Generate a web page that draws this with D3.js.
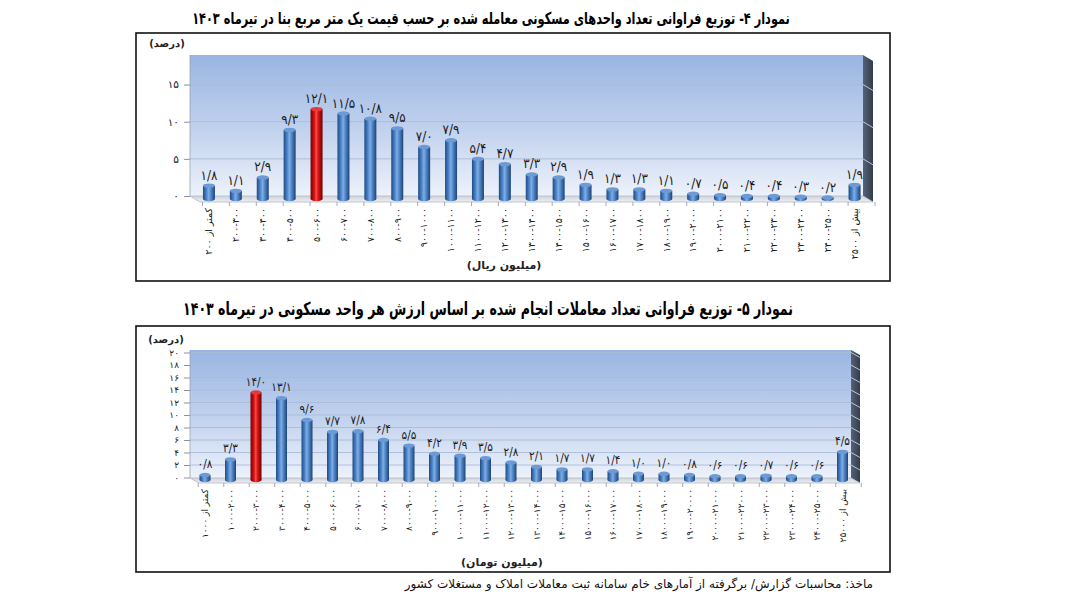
<!DOCTYPE html>
<html><head><meta charset="utf-8">
<script src="https://cdn.jsdelivr.net/npm/d3@7"></script>
<style>body{margin:0;background:#fff}svg{display:block}text{font-family:"DejaVu Sans",sans-serif}</style>
</head><body><svg id="c" width="1068" height="601"></svg>
<script>
// ---------------- DATA ----------------
const title1 = "نمودار ۴- توزیع فراوانی تعداد واحدهای مسکونی معامله شده بر حسب قیمت یک متر مربع بنا در تیرماه ۱۴۰۳";
const title2 = "نمودار ۵- توزیع فراوانی تعداد معاملات انجام شده بر اساس ارزش هر واحد مسکونی در تیرماه ۱۴۰۳";
const yUnit = "(درصد)";
const xUnit1 = "(میلیون ریال)";
const xUnit2 = "(میلیون تومان)";
const source = "ماخذ: محاسبات گزارش/ برگرفته از آمارهای خام سامانه ثبت معاملات املاک و مستغلات کشور";

const cats1 = ["کمتر از ۲۰۰","۲۰۰-۳۰۰","۳۰۰-۴۰۰","۴۰۰-۵۰۰","۵۰۰-۶۰۰","۶۰۰-۷۰۰","۷۰۰-۸۰۰","۸۰۰-۹۰۰","۹۰۰-۱۰۰۰","۱۰۰۰-۱۱۰۰","۱۱۰۰-۱۲۰۰","۱۲۰۰-۱۳۰۰","۱۳۰۰-۱۴۰۰","۱۴۰۰-۱۵۰۰","۱۵۰۰-۱۶۰۰","۱۶۰۰-۱۷۰۰","۱۷۰۰-۱۸۰۰","۱۸۰۰-۱۹۰۰","۱۹۰۰-۲۰۰۰","۲۰۰۰-۲۱۰۰","۲۱۰۰-۲۲۰۰","۲۲۰۰-۲۳۰۰","۲۳۰۰-۲۴۰۰","۲۴۰۰-۲۵۰۰","بیش از ۲۵۰۰"];
const vals1 = [1.8,1.1,2.9,9.3,12.1,11.5,10.8,9.5,7.0,7.9,5.4,4.7,3.3,2.9,1.9,1.3,1.3,1.1,0.7,0.5,0.4,0.4,0.3,0.2,1.9];
const highlight1 = 4;
const yTicks1 = [0,5,10,15];

const cats2 = ["کمتر از ۱۰۰۰","۱۰۰۰-۲۰۰۰","۲۰۰۰-۳۰۰۰","۳۰۰۰-۴۰۰۰","۴۰۰۰-۵۰۰۰","۵۰۰۰-۶۰۰۰","۶۰۰۰-۷۰۰۰","۷۰۰۰-۸۰۰۰","۸۰۰۰-۹۰۰۰","۹۰۰۰-۱۰۰۰۰","۱۰۰۰۰-۱۱۰۰۰","۱۱۰۰۰-۱۲۰۰۰","۱۲۰۰۰-۱۳۰۰۰","۱۳۰۰۰-۱۴۰۰۰","۱۴۰۰۰-۱۵۰۰۰","۱۵۰۰۰-۱۶۰۰۰","۱۶۰۰۰-۱۷۰۰۰","۱۷۰۰۰-۱۸۰۰۰","۱۸۰۰۰-۱۹۰۰۰","۱۹۰۰۰-۲۰۰۰۰","۲۰۰۰۰-۲۱۰۰۰","۲۱۰۰۰-۲۲۰۰۰","۲۲۰۰۰-۲۳۰۰۰","۲۳۰۰۰-۲۴۰۰۰","۲۴۰۰۰-۲۵۰۰۰","بیش از ۲۵۰۰۰"];
const vals2 = [0.8,3.3,14.0,13.1,9.6,7.7,7.8,6.4,5.5,4.2,3.9,3.5,2.8,2.1,1.7,1.7,1.4,1.0,1.0,0.8,0.6,0.6,0.7,0.6,0.6,4.5];
const highlight2 = 2;
const yTicks2 = [0,2,4,6,8,10,12,14,16,18,20];

// ---------------- HELPERS ----------------
const FA = "۰۱۲۳۴۵۶۷۸۹";
const fa = s => String(s).replace(/\d/g, d => FA[d]);
const faDec = v => fa(v.toFixed(1)).replace(".", "/");

const svg = d3.select("#c");
const defs = svg.append("defs");

function lin(id, x1,y1,x2,y2, stops){
  const g = defs.append("linearGradient").attr("id",id)
    .attr("x1",x1).attr("y1",y1).attr("x2",x2).attr("y2",y2);
  stops.forEach(s=>g.append("stop").attr("offset",s[0]).attr("stop-color",s[1]));
}
lin("wall","0","0","0","1",[["0%","#9ab5e2"],["55%","#c3d3ee"],["100%","#edf2fb"]]);
lin("blue","0","0","1","0",[["0%","#1e4a86"],["30%","#4f86c9"],["48%","#7eaee6"],["62%","#5a8fd0"],["100%","#1c4376"]]);
lin("red","0","0","1","0",[["0%","#7a0000"],["30%","#d01010"],["48%","#ff4a4a"],["62%","#dc1818"],["100%","#6e0000"]]);
lin("side","0","0","1","0",[["0%","#56627a"],["100%","#333c4b"]]);
lin("floor","0","0","0","1",[["0%","#cfd4dc"],["100%","#eceef2"]]);

// text stretched vertically, fitted to a target width
function stretchedText(g, str, cx, base, fs, targetW, sy, weight){
  const t = g.append("text").attr("x",0).attr("y",0).attr("text-anchor","middle")
    .attr("direction","rtl").attr("font-size",fs).attr("font-weight",weight).attr("fill","#000").text(str);
  const w = t.node().getComputedTextLength();
  t.attr("font-size", fs*targetW/w);
  t.attr("transform",`translate(${cx},${base}) scale(1,${sy})`);
  return t;
}

function drawPanel(o){
  const g = svg.append("g");
  g.append("rect").attr("x",o.frame[0]).attr("y",o.frame[1])
    .attr("width",o.frame[2]-o.frame[0]).attr("height",o.frame[3]-o.frame[1])
    .attr("fill","none").attr("stroke","#111").attr("stroke-width",1.6);

  const x = d3.scaleBand().domain(o.cats).range(o.xRange).padding(0);
  const yBar = d3.scaleLinear().domain([0,20]).range(o.yBarRange);
  const yWall = d3.scaleLinear().domain([0,20]).range([o.yBarRange[0]-o.wallShift, o.yBarRange[1]-o.wallShift]);

  const W = o.wall, dx = o.dx, dy = o.dy;
  g.append("rect").attr("x",W.x0).attr("y",W.top).attr("width",W.x1-W.x0).attr("height",W.floor-W.top)
    .attr("fill","url(#wall)");
  const grid = o.yTicks.filter(t=>t>0 && yWall(t)>W.top+1);
  g.selectAll(".gl").data(grid).join("line")
    .attr("x1",W.x0).attr("x2",W.x1).attr("y1",d=>yWall(d)).attr("y2",d=>yWall(d))
    .attr("stroke","#a9bbd8").attr("stroke-width",0.9);
  g.append("path").attr("d",`M${W.x1},${W.top}L${W.x1+dx},${W.top+dy}L${W.x1+dx},${W.floor+dy}L${W.x1},${W.floor}Z`)
    .attr("fill","url(#side)");
  g.selectAll(".sn").data(grid).join("line")
    .attr("x1",W.x1).attr("x2",W.x1+dx).attr("y1",d=>yWall(d)).attr("y2",d=>yWall(d)+dy)
    .attr("stroke","#c9d1de").attr("stroke-width",0.9);
  g.append("path").attr("d",`M${W.x0},${W.floor}L${W.x1},${W.floor}L${W.x1+dx},${W.floor+dy}L${W.x0+dx},${W.floor+dy}Z`)
    .attr("fill","url(#floor)").attr("stroke","#b4bac4").attr("stroke-width",0.8);
  g.append("line").attr("x1",W.x0).attr("x2",W.x0).attr("y1",W.top).attr("y2",W.floor)
    .attr("stroke","#9aa2ae").attr("stroke-width",0.8);

  const ya = d3.axisLeft(yWall).tickValues(o.yTicks).tickSize(6).tickPadding(5).tickFormat(d=>fa(d));
  const yg = g.append("g").attr("transform",`translate(${W.x0},0)`).call(ya);
  yg.select(".domain").remove();
  yg.selectAll("line").attr("stroke","#8c939e");
  yg.selectAll("text").attr("font-size",o.yFont).attr("fill","#222").style("font-family","DejaVu Sans");

  const bounds = d3.range(o.cats.length+1).map(i=>x.range()[0]+i*x.step()+o.tickOff);
  g.selectAll(".xt").data(bounds).join("line")
    .attr("x1",d=>d).attr("x2",d=>d).attr("y1",W.floor+dy).attr("y2",W.floor+dy+4)
    .attr("stroke","#9aa2ae").attr("stroke-width",0.9);

  const xa = d3.axisBottom(x).tickSize(0).tickPadding(0);
  const xg = g.append("g").attr("transform",`translate(0,${o.labelTop})`).call(xa);
  xg.select(".domain").remove();
  xg.selectAll("text")
    .attr("transform","rotate(-90)").attr("y",0).attr("x",0).attr("dy","0.35em")
    .attr("text-anchor","end").attr("font-size",o.xFont).attr("fill","#1a1a1a")
    .style("font-family","DejaVu Sans");

  const bw = o.barW;
  const cx = (i)=>x(o.cats[i])+x.bandwidth()/2;
  const bars = g.selectAll(".bar").data(o.vals).join("g");
  bars.append("rect")
    .attr("x",(d,i)=>cx(i)-bw/2)
    .attr("y",d=>yBar(d)).attr("width",bw).attr("height",d=>yBar(0)-yBar(d))
    .attr("fill",(d,i)=>i===o.hi?"url(#red)":"url(#blue)");
  bars.append("ellipse")
    .attr("cx",(d,i)=>cx(i)).attr("cy",d=>yBar(0))
    .attr("rx",bw/2).attr("ry",2.2)
    .attr("fill",(d,i)=>i===o.hi?"url(#red)":"url(#blue)");
  bars.append("ellipse")
    .attr("cx",(d,i)=>cx(i)).attr("cy",d=>yBar(d))
    .attr("rx",bw/2).attr("ry",2.2)
    .attr("fill",(d,i)=>i===o.hi?"#e43a3a":"#6d9ad4");

  g.selectAll(".dl").data(o.vals).join("text")
    .attr("transform",(d,i)=>`translate(${cx(i)},${yBar(d)-o.lblOff}) scale(1,1.1)`)
    .attr("text-anchor","middle").attr("font-size",o.dlFont)
    .attr("letter-spacing",o.dlSpace).attr("fill","#1a1a1a")
    .text(d=>faDec(d));

  g.append("text").attr("x",o.yUnitPos[0]).attr("y",o.yUnitPos[1]).attr("text-anchor","middle")
    .attr("direction","rtl").attr("font-size",10).attr("font-weight","bold").attr("fill","#222").text(yUnit);
  g.append("text").attr("x",o.xUnitPos[0]).attr("y",o.xUnitPos[1]).attr("text-anchor","middle")
    .attr("direction","rtl").attr("font-size",11).attr("font-weight","bold").attr("fill","#222").text(o.xUnit);

  stretchedText(g, o.title, o.titlePos[0], o.titlePos[1], 15, o.titleW, 1.45, "bold");
}

drawPanel({
  title:title1, titlePos:[491,24], titleW:598,
  frame:[136,33,890,281],
  cats:cats1, vals:vals1, hi:highlight1, yTicks:yTicks1,
  xRange:[195.5,868], yBarRange:[199,199-20*7.43], wallShift:3,
  wall:{x0:190,x1:863,top:55,floor:196}, dx:10, dy:6, tickOff:7,
  labelTop:208, barW:12, xFont:9.5, yFont:10.5, dlFont:12, dlSpace:1.5, lblOff:6,
  yUnitPos:[167,47], xUnit:xUnit1, xUnitPos:[504,269]
});
drawPanel({
  title:title2, titlePos:[488,315], titleW:610,
  frame:[136,326,890,572],
  cats:cats2, vals:vals2, hi:highlight2, yTicks:yTicks2,
  xRange:[192.25,855.25], yBarRange:[480,480-20*6.25], wallShift:2.5,
  wall:{x0:190,x1:851,top:350,floor:478}, dx:9, dy:5, tickOff:6,
  labelTop:489, barW:11, xFont:9, yFont:9, dlFont:10.5, dlSpace:0.5, lblOff:7,
  yUnitPos:[166,343], xUnit:xUnit2, xUnitPos:[502,566]
});

const src = svg.append("text").attr("y",588).attr("direction","rtl").attr("text-anchor","middle")
  .attr("font-size",12).attr("fill","#111").text(source);
const sw = src.node().getComputedTextLength();
src.attr("x",873-sw/2);
</script>
</body></html>
